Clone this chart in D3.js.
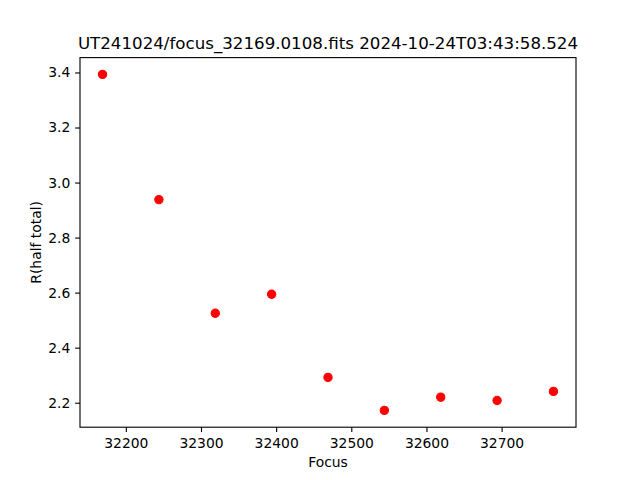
<!DOCTYPE html>
<html><head><meta charset="utf-8">
<script src="https://cdn.jsdelivr.net/npm/d3@7"></script>
<style>body{margin:0;background:#fff}svg{display:block}text{font-family:"DejaVu Sans",sans-serif;fill:#000}</style>
</head><body>
<script>
const focusValues = [32169, 32244, 32319, 32394, 32469, 32544, 32619, 32694, 32769];
const radiusValues = [3.393, 2.938, 2.525, 2.594, 2.292, 2.172, 2.220, 2.208, 2.241];
const xTicks = [32200, 32300, 32400, 32500, 32600, 32700];
const yTicks = [2.2, 2.4, 2.6, 2.8, 3.0, 3.2, 3.4];
const titleText = "UT241024/focus_32169.0108.fits 2024-10-24T03:43:58.524";
const xLabel = "Focus";
const yLabel = "R(half total)";

const W = 640, H = 480;
const L = 80, R = 576, T = 57.6, B = 427.2;
const svg = d3.select("body").append("svg").attr("width", W).attr("height", H);

const xmin = d3.min(focusValues), xmax = d3.max(focusValues);
const xm = (xmax - xmin) * 0.05;
const ymin = d3.min(radiusValues), ymax = d3.max(radiusValues);
const ym = (ymax - ymin) * 0.05;
const x = d3.scaleLinear().domain([xmin - xm, xmax + xm]).range([L, R]);
const y = d3.scaleLinear().domain([ymin - ym, ymax + ym]).range([B, T]);

const fs = 13.89;
const xAxis = svg.append("g").attr("transform", `translate(0,${B})`)
  .call(d3.axisBottom(x).tickValues(xTicks).tickFormat(d3.format("d")).tickSize(4.86).tickPadding(4.86));
const yAxis = svg.append("g").attr("transform", `translate(${L},0)`)
  .call(d3.axisLeft(y).tickValues(yTicks).tickFormat(d3.format(".1f")).tickSize(4.86).tickPadding(4.86));
[xAxis, yAxis].forEach(g => {
  g.select(".domain").remove();
  g.selectAll(".tick line").attr("stroke", "#000").attr("stroke-width", 1.11);
  g.selectAll(".tick text").attr("font-size", fs).attr("font-family", "DejaVu Sans").attr("fill", "#000");
});
xAxis.selectAll(".tick text").attr("dy", null).attr("y", 20.6);

svg.append("rect").attr("x", L).attr("y", T).attr("width", R - L).attr("height", B - T)
  .attr("fill", "none").attr("stroke", "#000").attr("stroke-width", 1.11);

svg.append("g").selectAll("circle").data(focusValues).join("circle")
  .attr("cx", d => x(d)).attr("cy", (d, i) => y(radiusValues[i]))
  .attr("r", 4.17).attr("fill", "#ff0000").attr("stroke", "#ff0000").attr("stroke-width", 1.04);

svg.append("text").attr("x", (L + R) / 2).attr("y", 49.3).attr("text-anchor", "middle")
  .attr("font-size", 16.67).text(titleText);
svg.append("text").attr("x", (L + R) / 2).attr("y", 466.5).attr("text-anchor", "middle")
  .attr("font-size", fs).text(xLabel);
svg.append("text").attr("transform", `translate(40.7,${(T + B) / 2}) rotate(-90)`).attr("text-anchor", "middle")
  .attr("font-size", fs).text(yLabel);
</script>
</body></html>
